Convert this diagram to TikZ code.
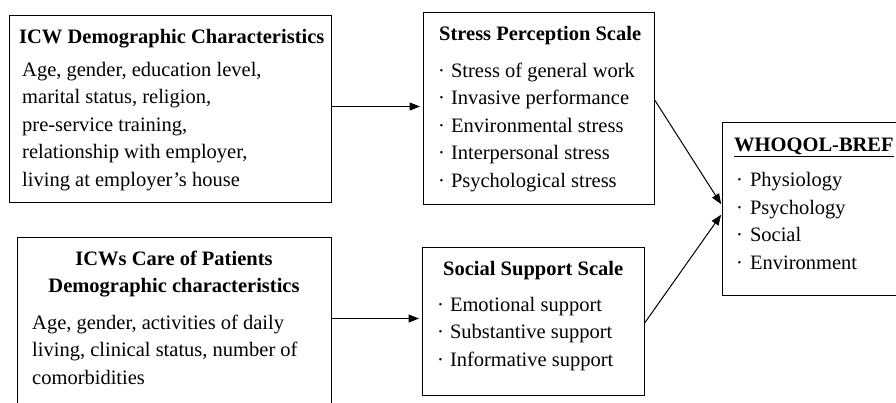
\documentclass[tikz,border=0pt]{standalone}
\usepackage{fontspec}
\setmainfont{Liberation Serif}
\usetikzlibrary{arrows.meta}
\begin{document}
\begin{tikzpicture}[x=1pt,y=-1pt,
  box/.style={draw, line width=1pt, anchor=north west, inner sep=0pt},
  txt/.style={anchor=base west, inner sep=0pt, font=\fontsize{20.5}{27.5}\selectfont},
  ttl/.style={txt, font=\fontsize{20.5}{27.5}\selectfont\bfseries},
  arr/.style={line width=1pt, -{Triangle[length=10.5pt,width=8pt]}}]
\useasboundingbox (0,0) rectangle (896,402);
\fill[white] (0,0) rectangle (896,402);
\clip (0,0) rectangle (896,402);
% boxes
\node[box, minimum width=322pt, minimum height=187pt] (icw) at (9,15) {};
\node[box, minimum width=314pt, minimum height=173pt] (pat) at (17,237) {};
\node[box, minimum width=231pt, minimum height=192pt] (sps) at (423,12) {};
\node[box, minimum width=222pt, minimum height=148pt] (sss) at (422,247) {};
\node[box, minimum width=183pt, minimum height=173pt] (who) at (722,122) {};
% box 1 text
\node[ttl] (t1) at (19,43) {ICW Demographic Characteristics};
\node[txt] (a1) at (22,76) {Age, gender, education level,};
\node[txt] (a2) at (22,103.5) {marital status, religion,};
\node[txt] (a3) at (22,131) {pre-service training,};
\node[txt] (a4) at (22,158.5) {relationship with employer,};
\node[txt] (a5) at (22,186) {living at employer’s house};
% box 5 text
\node[ttl, anchor=base] (t5a) at (174,265) {ICWs Care of Patients};
\node[ttl, anchor=base] (t5b) at (174,292) {Demographic characteristics};
\node[txt] (b1) at (32,329) {Age, gender, activities of daily};
\node[txt] (b2) at (32,356.5) {living, clinical status, number of};
\node[txt] (b3) at (32,384) {comorbidities};
% stress box text
\node[ttl] (t2) at (439,40) {Stress Perception Scale};
\node[txt] (s1) at (438,77) {·\hspace{6pt}Stress of general work};
\node[txt] (s2) at (438,104.5) {·\hspace{6pt}Invasive performance};
\node[txt] (s3) at (438,132) {·\hspace{6pt}Environmental stress};
\node[txt] (s4) at (438,159.5) {·\hspace{6pt}Interpersonal stress};
\node[txt] (s5) at (438,187) {·\hspace{6pt}Psychological stress};
% social support text
\node[ttl] (t3) at (443,275) {Social Support Scale};
\node[txt] (u1) at (437,311) {·\hspace{6pt}Emotional support};
\node[txt] (u2) at (437,338.5) {·\hspace{6pt}Substantive support};
\node[txt] (u3) at (437,366) {·\hspace{6pt}Informative support};
% WHOQOL text
\node[ttl] (t4) at (734,151) {\underline{WHOQOL-BREF}};
\node[txt] (w1) at (736,186.5) {·\hspace{7pt}Physiology};
\node[txt] (w2) at (736,214) {·\hspace{7pt}Psychology};
\node[txt] (w3) at (736,241.5) {·\hspace{7pt}Social};
\node[txt] (w4) at (736,269) {·\hspace{7pt}Environment};
% connectors
\draw[arr, shorten >=3pt] ([yshift=2.5pt]icw.east) -- ([yshift=2.5pt]icw.east -| sps.west);
\draw[arr, shorten >=3pt] ([yshift=3pt]sss.west -| pat.east) -- ([yshift=3pt]sss.west);
\draw[arr, shorten >=1.5pt] ([yshift=8pt]sps.east) -- ([yshift=3.5pt]who.west);
\draw[arr, shorten >=1.5pt] ([yshift=-1pt]sss.east) -- ([yshift=-4.5pt]who.west);
\end{tikzpicture}
\end{document}
